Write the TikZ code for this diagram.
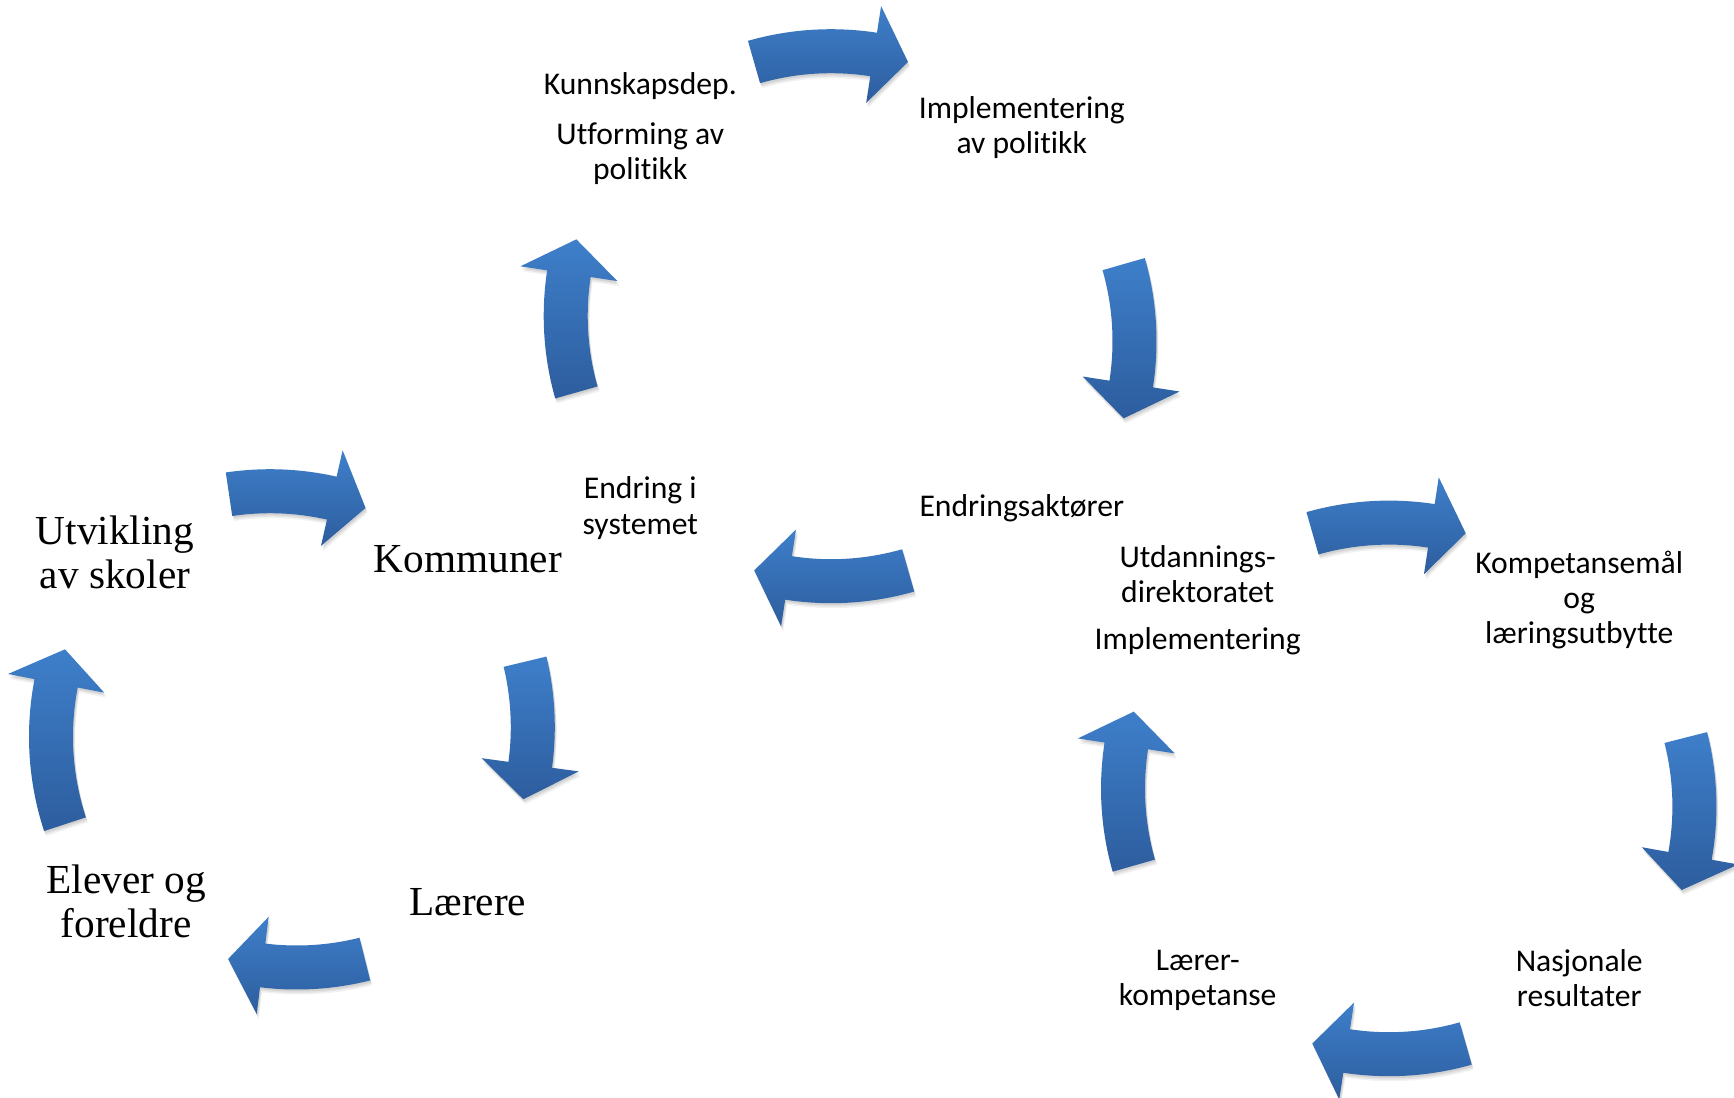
\documentclass[tikz,border=0pt]{standalone}
\usepackage{fontspec}
\setmainfont{Carlito}[Ligatures=NoCommon]
\newfontfamily\serifB{Liberation Serif}
\definecolor{arTop}{RGB}{62,127,202}
\definecolor{arBot}{RGB}{45,93,158}
\tikzset{
  lbl/.style={font=\fontsize{18}{20}\selectfont, align=center, inner sep=0pt, text=black},
  lblB/.style={font=\serifB\fontsize{23.5}{24.8}\selectfont, align=center, inner sep=0pt, text=black},
  arrowfill/.style={top color=arTop, bottom color=arBot, draw=none},
}
% arrow outline: #1 tail angle, #2 tip angle; \ah = head base angle
\newcommand\arrowoutline[2]{(#1:302) arc[start angle=#1, end angle=\ah, radius=302] -- (\ah:329) -- (#2:280) -- (\ah:231) -- (\ah:258) arc[start angle=\ah, end angle=#1, radius=258] -- cycle}
% #1 cx, #2 cy (screen px), #3 tail angle, #4 tip angle
\newcommand\cycarrow[4]{%
  \pgfmathsetmacro\ah{#4+7.2}%
  \begin{scope}[shift={(#1,-#2)}]
    \fill[black, opacity=0.05, shift={(2,-5)}] \arrowoutline{#3}{#4};
    \fill[black, opacity=0.06, shift={(1.5,-3.5)}] \arrowoutline{#3}{#4};
    \fill[black, opacity=0.07, shift={(1,-2)}] \arrowoutline{#3}{#4};
    \path[arrowfill] \arrowoutline{#3}{#4};
  \end{scope}}
\begin{document}
\begin{tikzpicture}[x=0.02cm, y=0.02cm]
\useasboundingbox (0,0) rectangle (1734,-1098);
\fill[white] (0,0) rectangle (1734,-1098);

% ---- cycle A (top) ----
\cycarrow{831}{331.2}{105.96}{74.04}
\cycarrow{854.5}{341.2}{15.98}{-16.0}
\cycarrow{831.2}{301.2}{-74.04}{-105.96}
\cycarrow{845.7}{315.9}{195.87}{164.13}

% ---- cycle B (left) ----
\cycarrow{270}{771.2}{98.42}{70.05}
\cycarrow{252.8}{727.1}{13.51}{-14.94}
\cycarrow{296.7}{687.5}{-75.91}{-104.18}
\cycarrow{331}{736.75}{198.2}{161.8}

% ---- cycle C (right) ----
\cycarrow{1389.1}{802.6}{105.88}{74.12}
\cycarrow{1414.4}{806.5}{14.26}{-17.35}
\cycarrow{1389}{774.2}{-74.1}{-105.9}
\cycarrow{1403}{788.6}{195.97}{164.03}

% ---- labels cycle A ----
\node[lbl] (kd) at (640.3,-86.2) {Kunnskapsdep.};
\node[lbl] (utf) at (640.3,-153.3) {Utforming av\\politikk};
\node[lbl] (impl) at (1021.8,-127.5) {Implementering\\av politikk};
\node[lbl] (eakt) at (1021.8,-508.7) {Endringsaktører};
\node[lbl] (esys) at (640.3,-508.1) {Endring i\\systemet};

% ---- labels cycle B ----
\node[lblB] (utv) at (115,-552.4) {Utvikling\\av skoler};
\node[lblB] (komm) at (467.8,-559.6) {Kommuner};
\node[lblB] (laer) at (467.8,-902.3) {Lærere};
\node[lblB] (elev) at (126,-901.3) {Elever og\\foreldre};

% ---- labels cycle C ----
\node[lbl] (udir) at (1197.7,-573.9) {Utdannings-\\direktoratet};
\node[lbl] (implc) at (1197.7,-641.7) {Implementering};
\node[lbl] (komp) at (1579.2,-600.2) {Kompetansemål\\og\\læringsutbytte};
\node[lbl] (nasj) at (1579.2,-978.2) {Nasjonale\\resultater};
\node[lbl] (lk) at (1197.7,-980.2) {Lærer-\\kompetanse};
\end{tikzpicture}
\end{document}
